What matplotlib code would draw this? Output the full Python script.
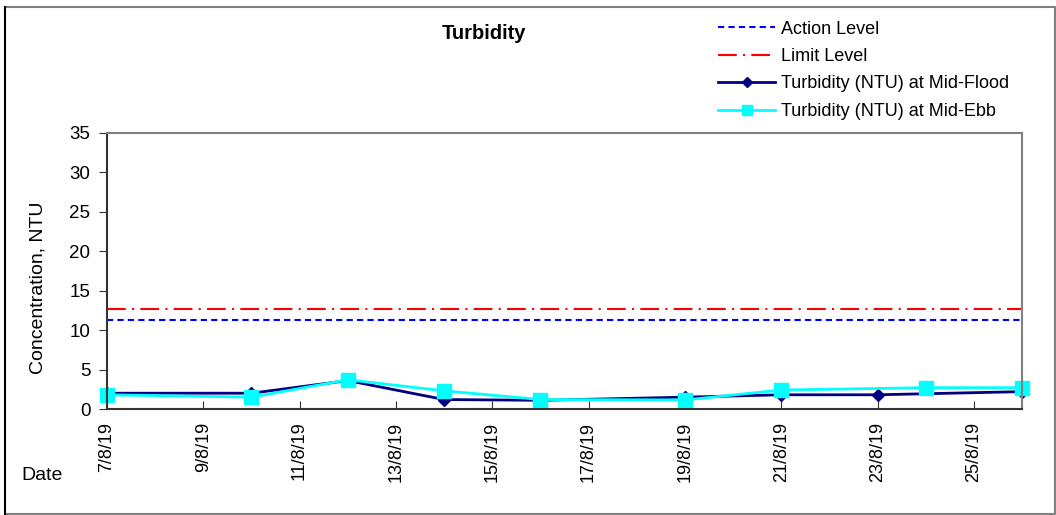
# Turbidity chart
import matplotlib
matplotlib.use('Agg')
import matplotlib.pyplot as plt
import matplotlib.dates as mdates
from matplotlib.lines import Line2D
import pandas as pd

plt.rcParams['font.family'] = ['Liberation Sans', 'DejaVu Sans']
plt.rcParams['font.size'] = 13

# Data
flood_dates = ['2019-08-07', '2019-08-10', '2019-08-12', '2019-08-14', '2019-08-16',
               '2019-08-19', '2019-08-21', '2019-08-23', '2019-08-26']
flood_ntu = [2.0, 2.0, 3.6, 1.2, 1.1, 1.5, 1.8, 1.8, 2.2]
ebb_dates = ['2019-08-07', '2019-08-10', '2019-08-12', '2019-08-14', '2019-08-16',
             '2019-08-19', '2019-08-21', '2019-08-24', '2019-08-26']
ebb_ntu = [1.8, 1.5, 3.7, 2.3, 1.2, 1.15, 2.4, 2.7, 2.7]
action_level = 11.3
limit_level = 12.7
x_start = '2019-08-07'
x_end = '2019-08-26'

flood_dates = pd.to_datetime(flood_dates)
ebb_dates = pd.to_datetime(ebb_dates)
x_ticks = pd.date_range(x_start, x_end, freq='2D')

fig = plt.figure(figsize=(10.56, 5.15), dpi=100)
ax = fig.add_axes([0.1013, 0.2058, 0.8665, 0.5369])

# Level lines
ax.axhline(action_level, color='#0000FF', linestyle=(0, (3, 2)), linewidth=1.5, label='Action Level')
ax.axhline(limit_level, color='#FF0000', linestyle=(0, (9, 3, 1, 3)), linewidth=1.5, label='Limit Level')

# Series
ax.plot(flood_dates, flood_ntu, color='#000080', linewidth=2, marker='D', markersize=6.5,
        label='Turbidity (NTU) at Mid-Flood', clip_on=False)
ax.plot(ebb_dates, ebb_ntu, color='#00FFFF', linewidth=2, marker='s', markersize=10,
        label='Turbidity (NTU) at Mid-Ebb', clip_on=False)

ax.set_xlim(pd.Timestamp(x_start), pd.Timestamp(x_end))
ax.set_ylim(0, 35)
ax.set_yticks(range(0, 36, 5))
ax.set_xticks(x_ticks)
ax.xaxis.set_major_formatter(mdates.DateFormatter('%-d/%-m/%y'))
ax.tick_params(axis='x', direction='in', length=6, pad=9, rotation=90, colors='#333333',
               labelcolor='black', labelsize=13)
ax.tick_params(axis='y', direction='out', length=6, pad=6, colors='#333333',
               labelcolor='black', labelsize=13.5)

for s in ['top', 'right']:
    ax.spines[s].set_color('#808080')
for s in ['left', 'bottom']:
    ax.spines[s].set_color('#333333')
for s in ax.spines.values():
    s.set_linewidth(1.5)

ax.set_ylabel('Concentration, NTU', fontsize=14)
ax.yaxis.set_label_coords(-0.066, 0.438)

fig.text(0.458, 0.934, 'Turbidity', ha='center', va='center', fontweight='bold', fontsize=14.5)
fig.text(0.02, 0.076, 'Date', ha='left', va='center', fontsize=14)

ax.legend(loc='upper left', bbox_to_anchor=(0.668, 1.405), frameon=False, fontsize=13,
          handlelength=3.15, handletextpad=0.33, labelspacing=0.58, borderaxespad=0, borderpad=0,
          markerscale=0.75)

# Outer border
fig.add_artist(Line2D([0.0043, 0.9995, 0.9995, 0.0043], [0.986, 0.986, 0.002, 0.002],
                      color='#808080', linewidth=1.5, transform=fig.transFigure))
fig.add_artist(Line2D([0.0043, 0.0043], [0.002, 0.986], color='black', linewidth=1.5,
                      transform=fig.transFigure))

fig.savefig('out.png', dpi=100)
